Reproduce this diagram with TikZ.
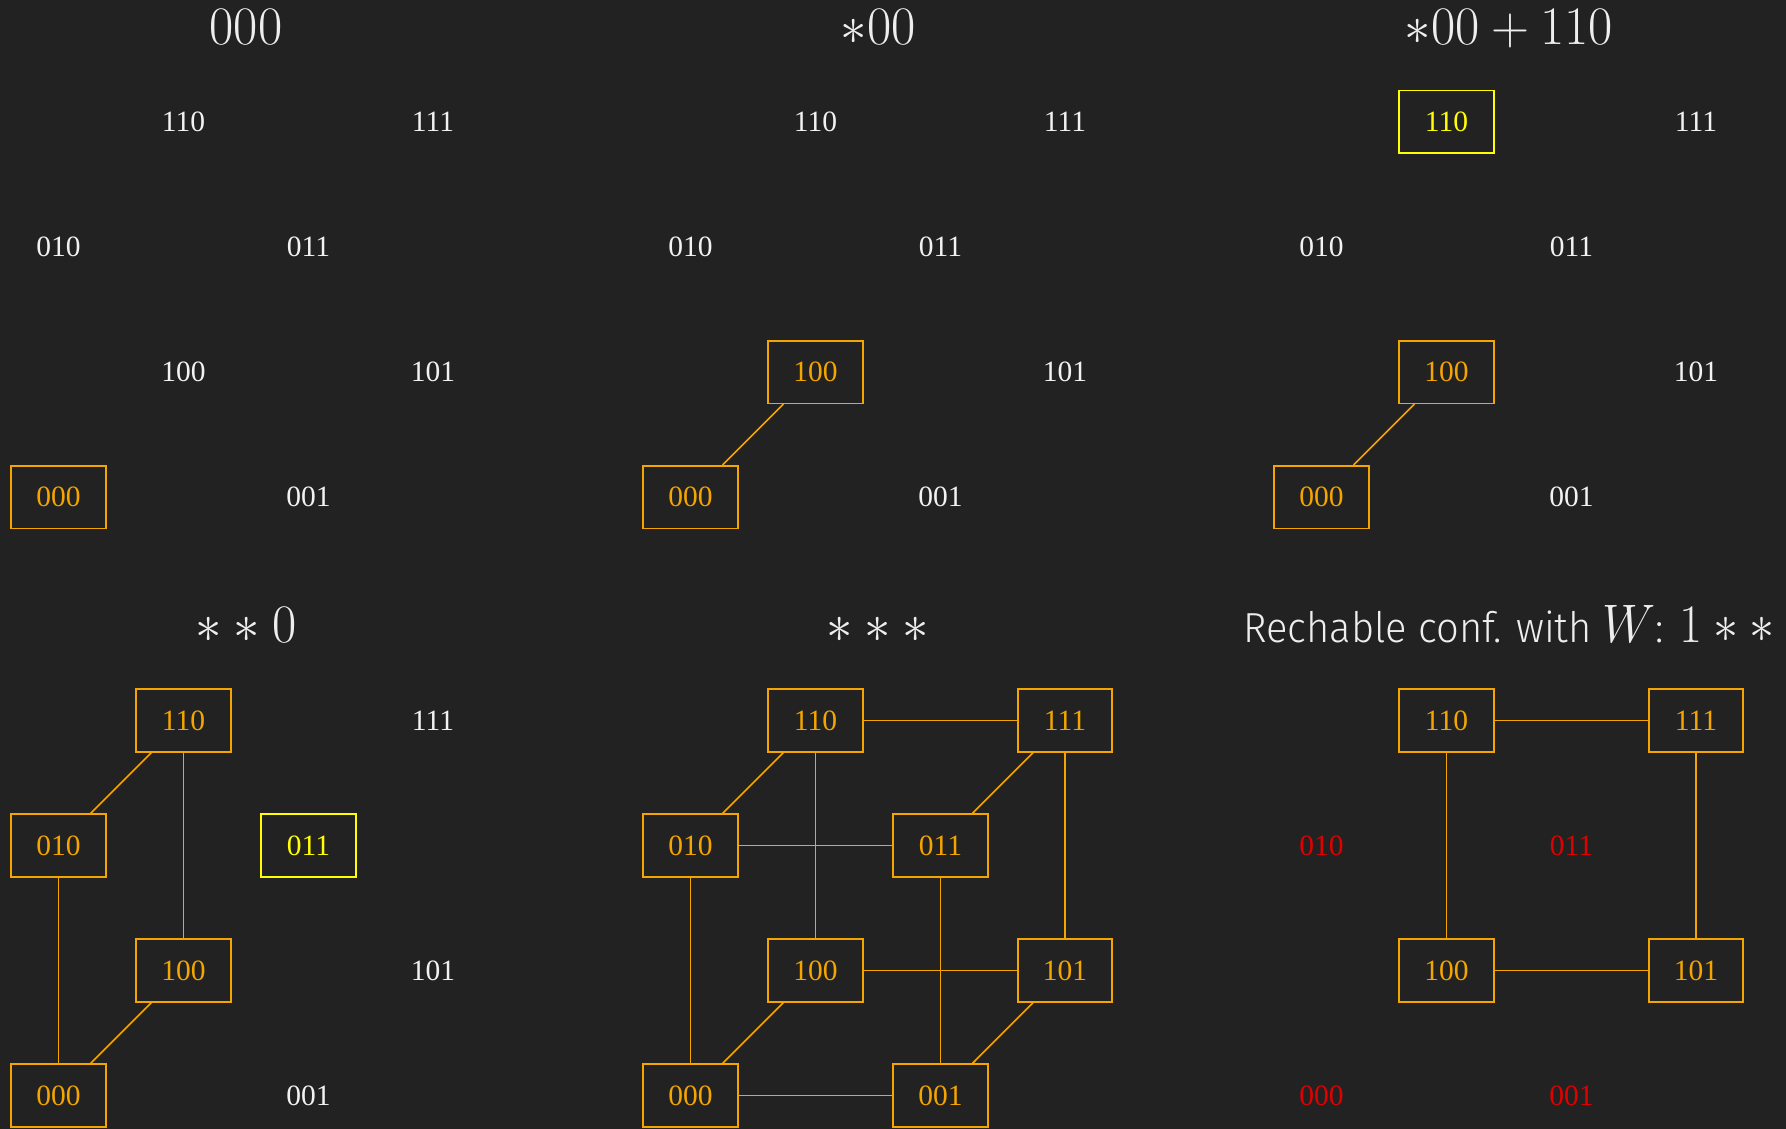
\documentclass[tikz,border=0pt]{standalone}
\usepackage[no-math]{fontspec}
\usepackage{graphicx}
\newfontfamily\lbl{Liberation Serif}
\newfontfamily\lightsans{Fira Sans Light}
\definecolor{bg}{HTML}{222222}
\definecolor{ora}{RGB}{245,165,0}
\definecolor{yel}{RGB}{255,255,0}
\definecolor{redl}{RGB}{225,0,0}
\definecolor{wht}{HTML}{F2F2F2}
\definecolor{ttlc}{HTML}{EEEEEE}
\newcommand\cubepanel[9]{%
 \node[#2] (#1-110) at (183.5,122) {110};
 \node[#3] (#1-111) at (433,122) {111};
 \node[#4] (#1-010) at (58.5,247) {010};
 \node[#5] (#1-011) at (308.5,247) {011};
 \node[#6] (#1-100) at (183.5,372) {100};
 \node[#7] (#1-101) at (433,372) {101};
 \node[#8] (#1-000) at (58.5,497) {000};
 \node[#9] (#1-001) at (308.5,497) {001};}
\newcommand\bigttl[1]{\scalebox{2.12}[2.18]{\fontsize{24.88}{30}\selectfont #1}}
\newcommand\sanstxt{\lightsans\fontsize{42}{46}\selectfont}
\begin{document}
\begin{tikzpicture}[x=1pt,y=-1pt,
  lab/.style={minimum width=94.5pt,minimum height=62.6pt,inner sep=0pt,font=\lbl\fontsize{29.5}{30}\selectfont},
  plain/.style={lab,text=wht},
  obox/.style={lab,draw=ora,text=ora,line width=1.6pt},
  ybox/.style={lab,draw=yel,text=yel,line width=1.6pt},
  rlab/.style={lab,text=redl},
  edge/.style={draw=ora,line width=1.6pt},
  ttl/.style={anchor=base,text=ttlc,inner sep=0pt}]
\fill[bg] (0,0) rectangle (1786,1129);
\useasboundingbox (0,0) rectangle (1786,1129);
% panel 1
\begin{scope}
 \node[ttl] (t1) at (246,44.3) {\bigttl{$000$}};
 \cubepanel{a}{plain}{plain}{plain}{plain}{plain}{plain}{obox}{plain}
\end{scope}
% panel 2
\begin{scope}[shift={(632,0)}]
 \node[ttl] (t2) at (246,44.3) {\bigttl{$*00$}};
 \cubepanel{b}{plain}{plain}{plain}{plain}{obox}{plain}{obox}{plain}
 \draw[edge] (b-000) -- (b-100);
\end{scope}
% panel 3
\begin{scope}[shift={(1263,0)}]
 \node[ttl] (t3) at (246,44.3) {\bigttl{$*00+110$}};
 \cubepanel{c}{ybox}{plain}{plain}{plain}{obox}{plain}{obox}{plain}
 \draw[edge] (c-000) -- (c-100);
\end{scope}
% panel 4
\begin{scope}[shift={(0,598.5)}]
 \node[ttl] (t4) at (246,44.3) {\bigttl{$**0$}};
 \cubepanel{d}{obox}{plain}{obox}{ybox}{obox}{plain}{obox}{plain}
 \draw[edge] (d-000) -- (d-100);
 \draw[edge] (d-000) -- (d-010);
 \draw[edge] (d-010) -- (d-110);
 \draw[edge] (d-100) -- (d-110);
\end{scope}
% panel 5
\begin{scope}[shift={(632,598.5)}]
 \node[ttl] (t5) at (246,44.3) {\bigttl{$***$}};
 \cubepanel{e}{obox}{obox}{obox}{obox}{obox}{obox}{obox}{obox}
 \draw[edge] (e-000) -- (e-001);
 \draw[edge] (e-000) -- (e-010);
 \draw[edge] (e-000) -- (e-100);
 \draw[edge] (e-001) -- (e-011);
 \draw[edge] (e-001) -- (e-101);
 \draw[edge] (e-010) -- (e-011);
 \draw[edge] (e-010) -- (e-110);
 \draw[edge] (e-100) -- (e-110);
 \draw[edge] (e-100) -- (e-101);
 \draw[edge] (e-011) -- (e-111);
 \draw[edge] (e-101) -- (e-111);
 \draw[edge] (e-110) -- (e-111);
\end{scope}
% panel 6
\begin{scope}[shift={(1263,598.5)}]
 \node[ttl] (t6) at (246,44.3) {\scalebox{0.95}[1]{{\sanstxt Rechable conf. with }\bigttl{$W$}{\sanstxt: }\bigttl{$1**$}}};
 \cubepanel{f}{obox}{obox}{rlab}{rlab}{obox}{obox}{rlab}{rlab}
 \draw[edge] (f-110) -- (f-111);
 \draw[edge] (f-110) -- (f-100);
 \draw[edge] (f-111) -- (f-101);
 \draw[edge] (f-100) -- (f-101);
\end{scope}
\end{tikzpicture}
\end{document}
